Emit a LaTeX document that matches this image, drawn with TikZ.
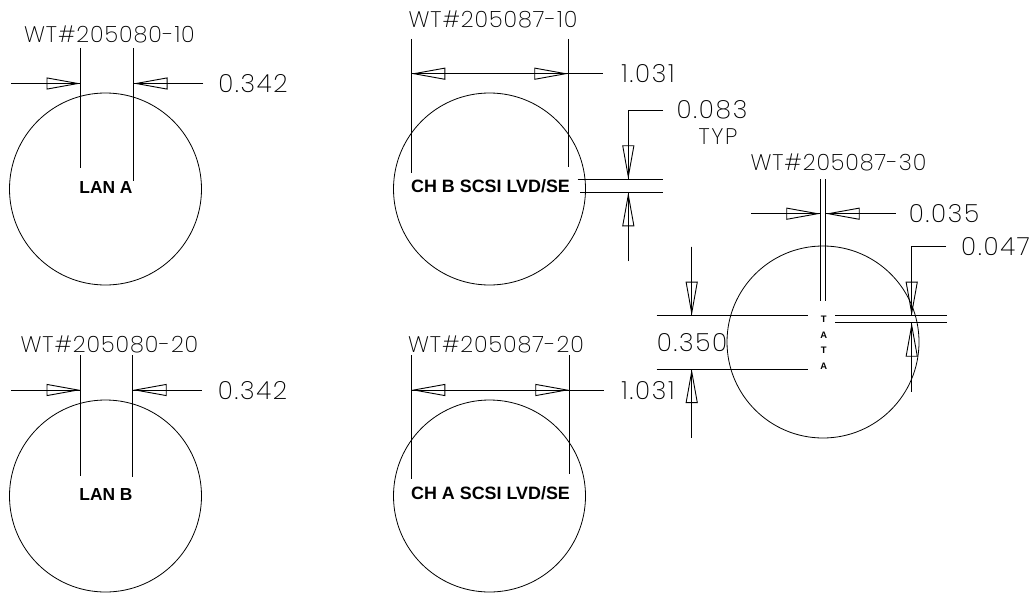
\documentclass[tikz,border=0pt]{standalone}
\usepackage{fontspec}
\setmainfont{Liberation Sans}
\newfontfamily\cadfont[LetterSpace=4]{Poppins ExtraLight}
\newfontfamily\caddimfont[LetterSpace=7]{Poppins ExtraLight}
\usetikzlibrary{arrows.meta}
\tikzset{
  hole/.style={circle,draw=black,line width=0.8pt,minimum size=192pt,inner sep=0pt},
  line/.style={draw=black,line width=0.9pt},
  dimtip/.style={draw=black,line width=0.9pt,line join=miter,-{Triangle[open,length=34pt,width=12pt,line width=0.9pt]}},
  caddim/.style={inner sep=0pt,font=\caddimfont\fontsize{25}{25}\selectfont},
  cadnote/.style={inner sep=0pt,font=\caddimfont\fontsize{22.5}{22.5}\selectfont},
  cadpart/.style={inner sep=0pt,font=\cadfont\fontsize{22.5}{22.5}\selectfont},
  lab/.style={inner sep=0pt,font=\bfseries\fontsize{17.4}{17.4}\selectfont},
  labwide/.style={inner sep=0pt,font=\bfseries\fontsize{17.9}{17.9}\selectfont},
  tiny/.style={inner sep=0pt,font=\bfseries\fontsize{9.4}{9.4}\selectfont},
}
\newcommand{\dimarrow}[2]{\draw[line] (#1) -- (#2); \draw[dimtip] (#1) -- (#2);}
\begin{document}
\begin{tikzpicture}[x=1pt,y=-1pt]
\useasboundingbox (0,0) rectangle (1032,594);
\node[hole] (la) at (105.5,189) {};
\node[hole] (lb) at (105.5,496) {};
\node[hole] (cb) at (489.5,189) {};
\node[hole] (ca) at (489.5,496) {};
\node[hole] (ta) at (823,342) {};
% texts
\node[lab] (tla) at (106,188) {LAN A};
\node[lab] (tlb) at (106,495) {LAN B};
\node[labwide] (tcb) at (490.5,186) {CH B SCSI LVD/SE};
\node[labwide] (tca) at (490.5,493) {CH A SCSI LVD/SE};
\node[tiny] (t1) at (823.7,319.3) {T};
\node[tiny] (t2) at (823.7,335) {A};
\node[tiny] (t3) at (823.7,350.7) {T};
\node[tiny] (t4) at (823.7,366) {A};
\node[cadpart] (w1) at (109.5,34) {WT\#205080-10};
\node[cadpart] (w2) at (109.5,344) {WT\#205080-20};
\node[cadpart] (w3) at (493,19) {WT\#205087-10};
\node[cadpart] (w4) at (496,344) {WT\#205087-20};
\node[cadpart] (w5) at (838.5,162.5) {WT\#205087-30};
\node[caddim] (d1) at (253,83.5) {0.342};
\node[caddim] (d2) at (252.5,390.5) {0.342};
\node[caddim] (d3) at (648,74) {1.031};
\node[caddim] (d4) at (648,391) {1.031};
\node[caddim] (d5) at (712,110) {0.083};
\node[cadnote] (d6) at (718,136.5) {TYP};
\node[caddim] (d7) at (944,214) {0.035};
\node[caddim] (d8) at (995.5,247) {0.047};
\node[caddim] (d9) at (692,343) {0.350};
% LAN A
\path (80.5,48) coordinate (a1) (80.5,168) coordinate (a2) (133.5,48) coordinate (a3) (133.5,181) coordinate (a4)
  (11,83.5) coordinate (a5) (80.5,83.5) coordinate (a6) (133.5,83.5) coordinate (a7) (203,83.5) coordinate (a8);
\draw[line] (a1) -- (a2); \draw[line] (a3) -- (a4);
\dimarrow{a5}{a6} \dimarrow{a8}{a7}
% LAN B
\path (80.5,355) coordinate (b1) (80.5,476) coordinate (b2) (132.7,355) coordinate (b3) (132.7,476.7) coordinate (b4)
  (11,390) coordinate (b5) (80.5,390) coordinate (b6) (132.7,390) coordinate (b7) (201.7,390) coordinate (b8);
\draw[line] (b1) -- (b2); \draw[line] (b3) -- (b4);
\dimarrow{b5}{b6} \dimarrow{b8}{b7}
% CH B
\path (411.3,39) coordinate (c1) (411.3,172.5) coordinate (c2) (568.3,39) coordinate (c3) (568.3,167) coordinate (c4)
  (411.3,73.7) coordinate (c5) (568.3,73.7) coordinate (c6) (603,73.7) coordinate (c7);
\draw[line] (c1) -- (c2); \draw[line] (c3) -- (c4);
\draw[dimtip] (c6) -- (c5); \draw[dimtip] (c5) -- (c6); \draw[line] (c5) -- (c7);
% 0.083
\path (663,110) coordinate (e1) (628.3,110) coordinate (e2) (628.3,179.3) coordinate (e3)
  (628.3,192.3) coordinate (e4) (628.3,261) coordinate (e5)
  (577.7,179.3) coordinate (e6) (663,179.3) coordinate (e7) (580,192.3) coordinate (e8) (663,192.3) coordinate (e9);
\draw[line] (e1) -- (e2) -- (e3);
\draw[dimtip] (e2) -- (e3);
\dimarrow{e5}{e4}
\draw[line] (e6) -- (e7); \draw[line] (e8) -- (e9);
% CH A
\path (411.3,355) coordinate (f1) (411.3,479) coordinate (f2) (569.3,355) coordinate (f3) (569.3,474) coordinate (f4)
  (411.3,390) coordinate (f5) (569.3,390) coordinate (f6) (604,390) coordinate (f7);
\draw[line] (f1) -- (f2); \draw[line] (f3) -- (f4);
\draw[dimtip] (f6) -- (f5); \draw[dimtip] (f5) -- (f6); \draw[line] (f5) -- (f7);
% TATA
\path (820.3,179.3) coordinate (g1) (820.3,301) coordinate (g2) (825.7,179.3) coordinate (g3) (825.7,301) coordinate (g4)
  (751,213.7) coordinate (g5) (820.3,213.7) coordinate (g6) (825.7,213.7) coordinate (g7) (895.7,213.7) coordinate (g8);
\draw[line] (g1) -- (g2); \draw[line] (g3) -- (g4);
\dimarrow{g5}{g6} \dimarrow{g8}{g7}
% 0.047
\path (946,246.7) coordinate (h1) (911.7,246.7) coordinate (h2) (911.7,315.7) coordinate (h3)
  (911.7,322.7) coordinate (h4) (911.7,391.7) coordinate (h5)
  (835,315.7) coordinate (h6) (946.7,315.7) coordinate (h7) (835,322.7) coordinate (h8) (946.7,322.7) coordinate (h9);
\draw[line] (h1) -- (h2) -- (h3);
\draw[dimtip] (h2) -- (h3);
\dimarrow{h5}{h4}
\draw[line] (h6) -- (h7); \draw[line] (h8) -- (h9);
% 0.350
\path (691.7,246.7) coordinate (i1) (691.7,315.7) coordinate (i2) (691.7,369) coordinate (i3) (691.7,437.7) coordinate (i4)
  (656.7,315.7) coordinate (i5) (808,315.7) coordinate (i6) (656.7,369) coordinate (i7) (808,369) coordinate (i8);
\dimarrow{i1}{i2} \dimarrow{i4}{i3}
\draw[line] (i5) -- (i6); \draw[line] (i7) -- (i8);
\end{tikzpicture}
\end{document}
